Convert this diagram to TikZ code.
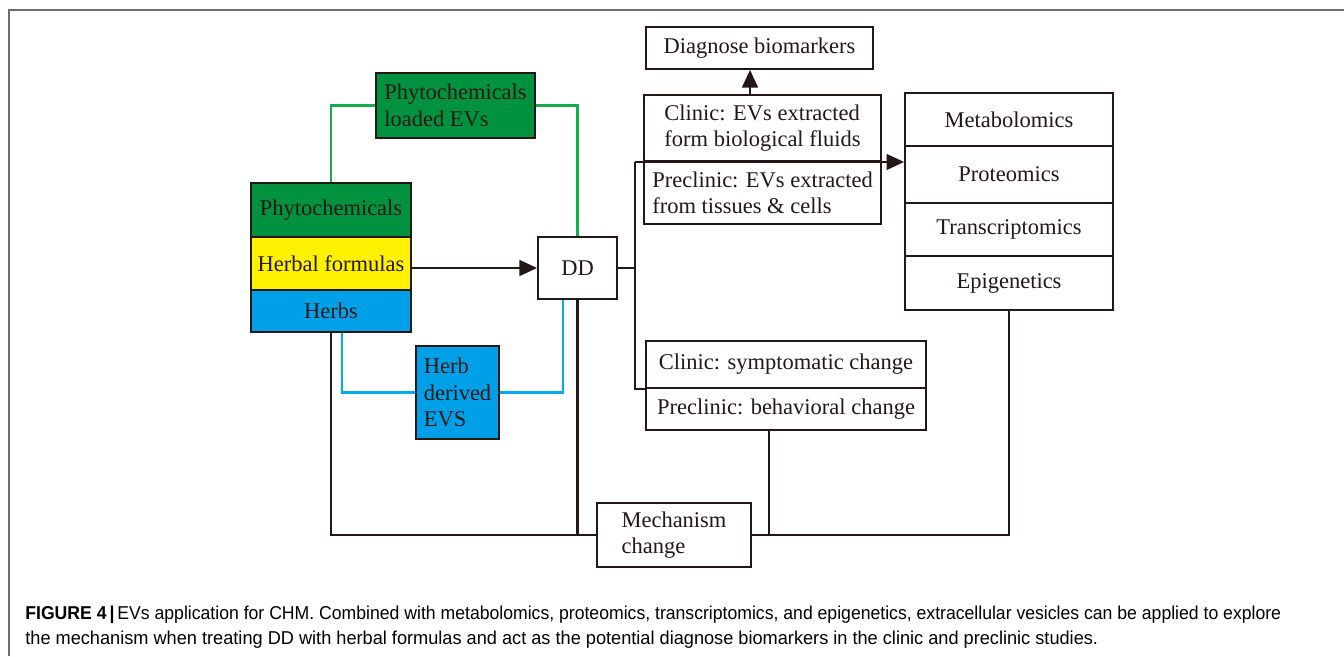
\documentclass[tikz,border=0pt]{standalone}
\usepackage{fontspec}
\setmainfont{Liberation Serif}
\newfontfamily\capfont{Liberation Sans}
\usepackage{graphicx}
\usetikzlibrary{arrows.meta}
\definecolor{ink}{RGB}{35,24,21}
\definecolor{leafgreen}{RGB}{0,146,63}
\definecolor{formyellow}{RGB}{255,241,0}
\definecolor{herbblue}{RGB}{0,160,233}
\definecolor{greenwire}{RGB}{20,172,80}
\definecolor{bluewire}{RGB}{0,172,236}
\definecolor{framegray}{RGB}{110,110,110}
\begin{document}
\begin{tikzpicture}[
  x=0.02cm, y=-0.02cm,
  box/.style={draw=ink, line width=1.1pt, rectangle, fill=white, align=left,
    inner sep=2pt, font=\fontsize{12.8}{15}\selectfont, text=ink},
  stack/.style={box, align=center, minimum width=3.2cm},
  omic/.style={box, align=center, minimum width=4.16cm},
  wire/.style={draw=ink, line width=1.2pt},
  gwire/.style={draw=greenwire, line width=1.2pt},
  bwire/.style={draw=bluewire, line width=1.2pt},
  arrow/.style={wire, -{Triangle[length=10pt, width=9pt]}},
  caption/.style={anchor=base west, inner sep=0pt, text=black,
    font=\capfont\fontsize{10.6}{12}\selectfont}]
  \useasboundingbox (0,0) rectangle (1344,656);
  \draw[draw=framegray, line width=1pt] (9,656) |- (1344,10);
  % left stack
  \node[stack, fill=leafgreen, minimum height=1.08cm] (phyto) at (331,210) {Phytochemicals};
  \node[stack, fill=formyellow, minimum height=1.06cm] (herbal) at (331,263.5) {Herbal formulas};
  \node[stack, fill=herbblue, minimum height=0.84cm] (herbs) at (331,311) {Herbs};
  \node[box, fill=leafgreen, minimum width=3.18cm, minimum height=1.3cm] (loaded) at (455.5,105.5) {Phytochemicals\\loaded EVs};
  \node[box, fill=herbblue, minimum width=1.66cm, minimum height=1.86cm] (herbev) at (457.5,392.5) {Herb\\derived\\EVS};
  \node[box, align=center, minimum width=1.58cm, minimum height=1.24cm] (dd) at (577.5,268) {DD};
  % middle column
  \node[box, minimum width=4.54cm, minimum height=0.84cm] (diag) at (759.5,48) {Diagnose biomarkers};
  \node[box, minimum width=4.74cm, minimum height=1.32cm] (clinA) at (762.5,128) {Clinic: EVs extracted\\form biological fluids};
  \node[box, minimum width=4.74cm, minimum height=1.26cm] (clinB) at (762.5,192.5) {Preclinic: EVs extracted\\from tissues \& cells};
  \node[box, minimum width=5.6cm, minimum height=0.94cm] (sympA) at (786,364.5) {Clinic: symptomatic change};
  \node[box, minimum width=5.6cm, minimum height=0.84cm] (sympB) at (786,409) {Preclinic: behavioral change};
  \node[box, minimum width=3.08cm, minimum height=1.28cm] (mech) at (674,535) {Mechanism\\change};
  % omics
  \node[omic, minimum height=1.06cm] (metab) at (1009,119.5) {Metabolomics};
  \node[omic, minimum height=1.14cm] (prot) at (1009,174.5) {Proteomics};
  \node[omic, minimum height=1.06cm] (trans) at (1009,229.5) {Transcriptomics};
  \node[omic, minimum height=1.08cm] (epi) at (1009,283) {Epigenetics};
  % connectors
  \draw[gwire] (phyto.north) |- (loaded.west);
  \draw[gwire] (loaded.east) -| (dd.north);
  \draw[arrow] (herbal.east |- dd.west) -- (dd.west);
  \draw[bwire] ([xshift=0.22cm]herbs.south) |- (herbev.west);
  \draw[bwire] (herbev.east) -| ([xshift=-0.29cm]dd.south);
  \draw[wire] (herbs.south) |- (mech.west);
  \draw[wire] (dd.south) -- (dd.south |- mech.west);
  \coordinate (bus) at (635,268);
  \draw[wire] (dd.east) -- (bus);
  \draw[wire] (bus |- clinA.south) -- (bus |- sympA.south) -- (sympA.south west);
  \draw[arrow] (bus |- clinA.south) -- (clinA.south -| prot.west);
  \coordinate (upfoot) at ([xshift=-0.25cm]clinA.north);
  \draw[arrow] (upfoot) -- (upfoot |- diag.south);
  \coordinate (symfoot) at ([xshift=-0.34cm]sympB.south);
  \draw[wire] (symfoot) -- (symfoot |- mech.east);
  \draw[wire] (epi.south) |- (mech.east);
  % caption
  \node[caption] (cap1) at (25,619) {\resizebox{25.12cm}{\height}{\textbf{FIGURE 4\,|\,}EVs application for CHM. Combined with metabolomics, proteomics, transcriptomics, and epigenetics, extracellular vesicles can be applied to explore}};
  \node[caption] (cap2) at (25,644) {\resizebox{21.46cm}{\height}{the mechanism when treating DD with herbal formulas and act as the potential diagnose biomarkers in the clinic and preclinic studies.}};
\end{tikzpicture}
\end{document}
